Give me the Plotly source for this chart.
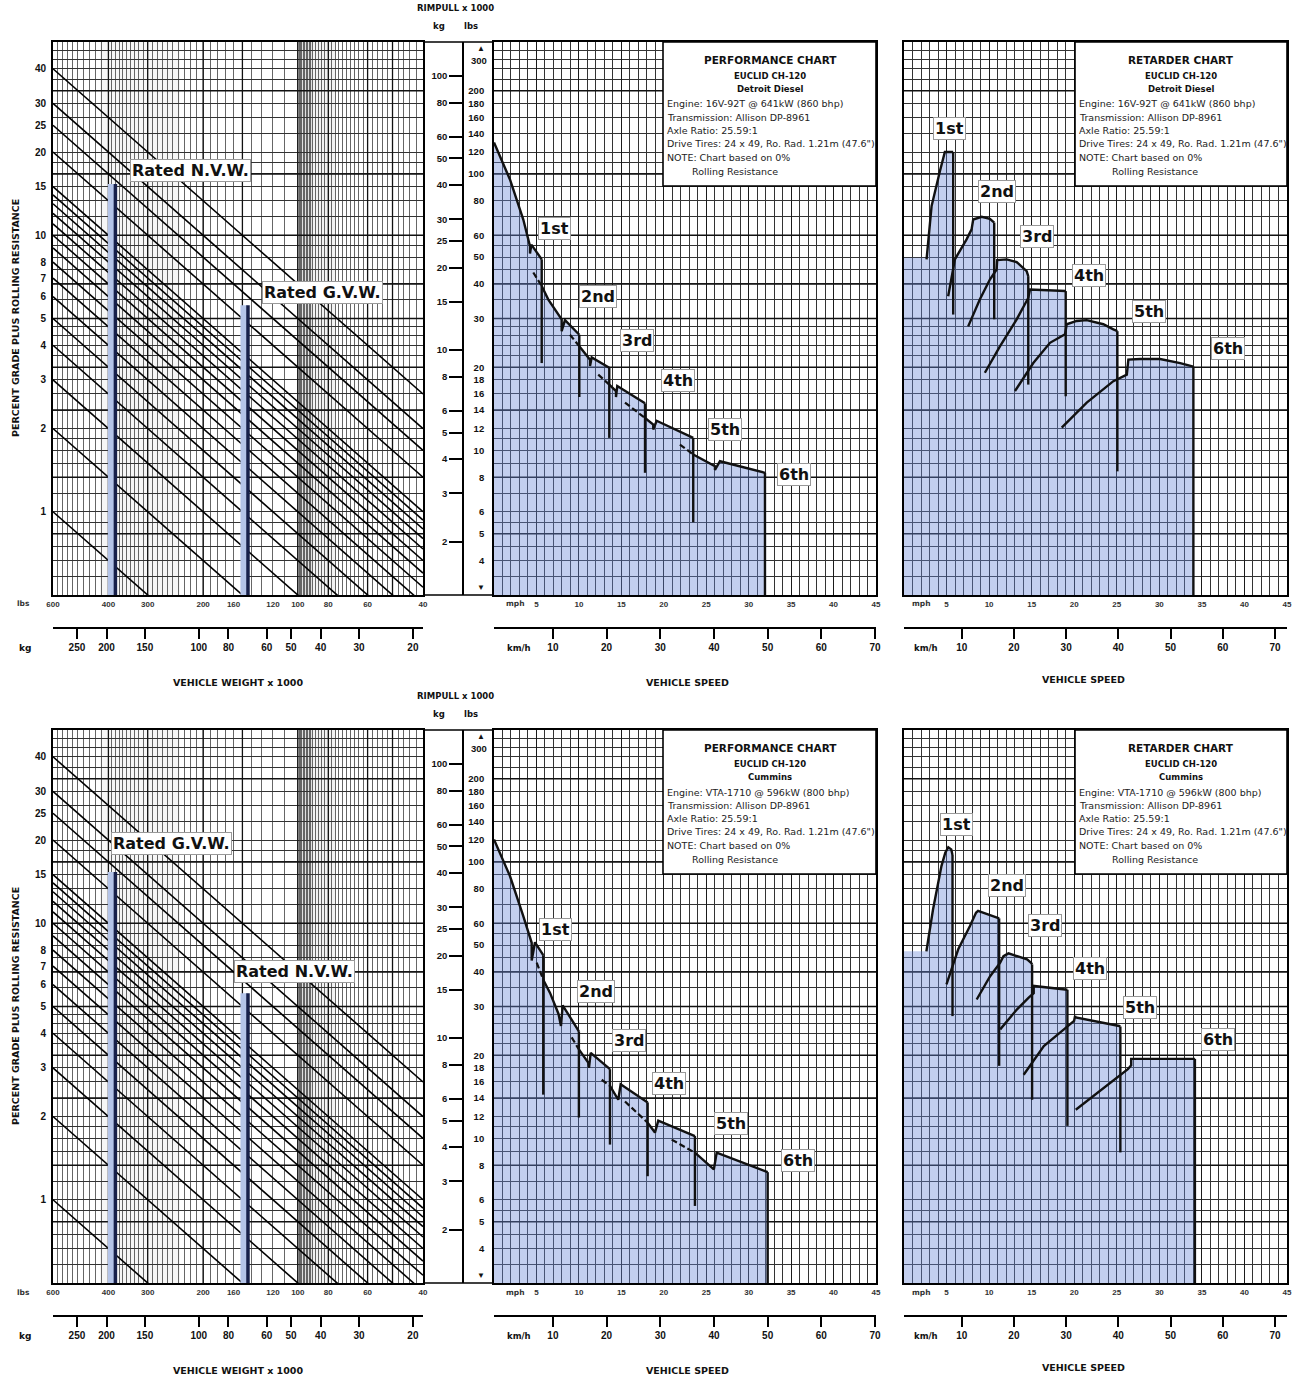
import math
import numpy as np
import plotly.graph_objects as go

FIG_W, FIG_H = 1303, 1383
ROW_DY = 688
FONT = "Liberation Sans"
INFO_FONT = "DejaVu Sans"
LABEL_FONT = "DejaVu Sans"

# ---------------- data ----------------
grade_line_pct = [1, 2, 3, 4, 5, 6, 7, 8, 9, 10, 11, 12, 13, 14, 15, 20, 25, 30, 40]
grade_label_pct = [1, 2, 3, 4, 5, 6, 7, 8, 10, 15, 20, 25, 30, 40]

weight_axis_lbs = [600, 40]
weight_tick_lbs = [600, 400, 300, 200, 160, 120, 100, 80, 60, 40]
weight_tick_kg = [250, 200, 150, 100, 80, 60, 50, 40, 30, 20]

rated_weight_lbs = [380, 144]
rated_top_lbs = [92, 33.5]
rated_labels = [["Rated N.V.W.", "Rated G.V.W."], ["Rated G.V.W.", "Rated N.V.W."]]

rimpull_axis_lbs = [3, 300]
rimpull_tick_lbs = [4, 5, 6, 8, 10, 12, 14, 16, 18, 20, 30, 40, 50, 60, 80, 100, 120, 140, 160, 180, 200]
rimpull_tick_kg = [2, 3, 4, 5, 6, 8, 10, 15, 20, 25, 30, 40, 50, 60, 80, 100]

speed_axis_mph = [0, 45]
speed_tick_mph = [5, 10, 15, 20, 25, 30, 35, 40, 45]
speed_tick_kmh = [10, 20, 30, 40, 50, 60, 70]

gear_names = ["1st", "2nd", "3rd", "4th", "5th", "6th"]

# ---- Detroit Diesel performance (mph, lbs x 1000)
dd_perf_speed = [
    [0, 1.88, 3.45, 4.24, 4.24, 4.4, 5.62],
    [5.62, 6.4, 7.97, 7.97, 8.36, 10.05],
    [10.05, 11.31, 11.31, 11.51, 13.58],
    [13.58, 14.37, 14.37, 14.52, 17.79],
    [17.79, 18.76, 18.76, 19.16, 23.47],
    [23.47, 26.03, 26.03, 26.62, 31.92],
]
dd_perf_pull = [
    [130, 95.5, 68.4, 54.8, 51.5, 55.5, 49.1],
    [39.3, 35.1, 29.8, 27.0, 29.6, 26.2],
    [23.8, 21.3, 20.2, 21.7, 19.9],
    [17.3, 16.4, 15.6, 17.1, 14.8],
    [13.1, 12.4, 11.9, 12.8, 11.1],
    [9.67, 8.77, 8.5, 9.14, 8.3],
]
dd_perf_lead_speed = [[], [4.63, 5.62], [8.95, 10.05], [12.28, 13.58], [15.43, 17.79], [21.9, 23.47]]
dd_perf_lead_pull = [[], [44, 39.3], [26.2, 23.8], [18.8, 17.3], [14.9, 13.1], [10.5, 9.67]]
dd_perf_drop_pull = [20.7, 15.6, 11.1, 8.3, 5.5, 3]
dd_perf_label_speed = [7.18, 12.2, 16.8, 21.7, 27.2, 35.3]
dd_perf_label_pull = [63.5, 36, 25, 17.9, 11.9, 8.2]

# ---- Detroit Diesel retarder
dd_ret_base = [2.65, 49.8]
dd_ret_speed = [
    [2.65, 3.24, 4.21, 4.8, 5.78],
    [5.19, 5.98, 7.35, 7.94, 8.13, 9.12, 10.09, 10.6],
    [7.54, 8.92, 10.09, 10.88, 10.95, 12.06, 13.24, 14.41, 14.6],
    [9.5, 11.27, 13.24, 14.6, 14.8, 19.0],
    [13.04, 15.19, 17.15, 18.92, 19.12, 20.29, 21.47, 23.42, 24.6, 25.07],
    [18.53, 21.47, 24.6, 26.18, 26.36, 27.74, 30.09, 32.45, 34.0],
]
dd_ret_pull = [
    [49.1, 76.5, 102, 120, 120],
    [36.1, 49.1, 58, 63, 68.4, 70, 68.8, 66.7],
    [28.1, 35.2, 41.5, 45.1, 48.8, 49.1, 48, 44.5, 42.7],
    [19.1, 23.8, 29.8, 35.6, 38.2, 37.7],
    [16.4, 20.7, 24.5, 26.3, 28.6, 29.4, 29.6, 28.6, 27.4, 27.0],
    [12.1, 14.9, 17.8, 18.8, 21.3, 21.4, 21.4, 20.7, 20.1],
]
dd_ret_drop_pull = [31, 29.8, 17.3, 15.7, 8.4, 3]
dd_ret_label_speed = [5.39, 10.9, 15.6, 21.7, 28.8, 38.1]
dd_ret_label_pull = [146, 86.5, 59.4, 43, 31.8, 23.4]

# ---- Cummins performance
cu_perf_speed = [
    [0, 1.88, 3.45, 4.44, 4.44, 4.83, 5.8],
    [5.8, 6.6, 7.6, 7.89, 8.09, 10.0],
    [10.0, 11.1, 11.19, 11.39, 13.66],
    [13.66, 14.64, 14.92, 18.1],
    [18.1, 18.96, 19.35, 23.67],
    [23.67, 25.9, 26.23, 32.24],
]
cu_perf_pull = [
    [120.5, 88.9, 63.7, 51, 44, 51.2, 46],
    [37.5, 33.6, 28.2, 25.5, 30.3, 24.4],
    [21, 18.8, 18.0, 20.4, 17.8],
    [15.5, 13.8, 15.7, 13.5],
    [11.4, 10.5, 11.6, 10.2],
    [8.88, 7.73, 8.88, 7.55],
]
cu_perf_lead_speed = [[], [5.03, 5.8], [9.15, 10.0], [12.69, 13.66], [15.43, 18.1], [20.93, 23.67]]
cu_perf_lead_pull = [[], [43.2, 37.5], [23.2, 21], [16.3, 15.5], [13.6, 11.4], [9.9, 8.88]]
cu_perf_drop_pull = [14.4, 11.9, 9.5, 7.3, 5.7, 3]
cu_perf_label_speed = [7.3, 12.0, 15.9, 20.6, 27.9, 35.8]
cu_perf_label_pull = [57, 34, 22.6, 15.8, 11.3, 8.3]

# ---- Cummins retarder
cu_ret_base = [2.63, 47.5]
cu_ret_speed = [
    [2.63, 3.41, 4.4, 4.85, 5.2, 5.55, 5.7],
    [4.99, 6.37, 7.75, 8.46, 8.7, 11.1, 11.18],
    [8.54, 10.12, 11.3, 11.69, 12.28, 14.46, 14.93, 15.05],
    [11.3, 13.28, 14.65, 15.24, 15.24, 18.99, 19.2],
    [14.06, 16.43, 18.79, 19.98, 20.1, 20.18, 25.3, 25.42],
    [20.18, 23.14, 26.3, 26.69, 26.69, 34.18],
]
cu_ret_pull = [
    [47.5, 67.3, 96.6, 108, 113, 111, 106],
    [36.1, 48.3, 58.6, 65.5, 66.5, 62.8, 62.5],
    [31.8, 38.6, 43.2, 45.6, 46.7, 44.4, 43.2, 42.6],
    [24.8, 29.3, 32.3, 33.5, 35.6, 34.6, 34.5],
    [17, 21.6, 24.8, 26.6, 27.7, 27.4, 25.5, 25.4],
    [12.7, 15.0, 17.8, 18.4, 19.4, 19.4],
]
cu_ret_drop_pull = [27.7, 18.3, 13.8, 11.1, 8.9, 3]
cu_ret_label_speed = [6.2, 12.1, 16.6, 21.9, 27.75, 36.9]
cu_ret_label_pull = [137, 82, 59, 41, 29.8, 22.8]

info_common = ["Transmission: Allison DP-8961", "Axle Ratio: 25.59:1",
               'Drive Tires: 24 x 49, Ro. Rad. 1.21m (47.6")', "NOTE: Chart based on 0%"]
engine_names = ["Detroit Diesel", "Cummins"]
engine_lines = ["Engine: 16V-92T @ 641kW (860 bhp)", "Engine: VTA-1710 @ 596kW (800 bhp)"]

# ---------------- styling helpers ----------------
lbs_grid = [3, 3.5, 4, 4.5, 5, 5.5, 6, 7, 8, 9, 10, 11, 12, 14, 16, 18, 20, 22, 24, 26, 28, 30,
            35, 40, 45, 50, 55, 60, 70, 80, 90, 100, 110, 120, 140, 160, 180, 200, 220, 240, 260, 280, 300]
lbs_grid_bold = [5, 8, 14, 20, 30, 40, 60, 100, 200]
weight_grid = list(range(600, 400, -20)) + list(range(400, 100, -10)) + list(range(100, 90, -1)) + list(range(90, 38, -2))
weight_grid_bold = [400, 300, 200, 150, 100, 80, 60, 50]
mph_grid = list(range(0, 46))

lg = math.log10


def px(x):
    return x / FIG_W


def py(y):
    return 1 - y / FIG_H


def axkey(k, n):
    return f"{k}axis" + ("" if n == 1 else str(n))


def axref(k, n):
    return k + ("" if n == 1 else str(n))


def bold(t):
    return f"<b>{t}</b>"


fig = go.Figure()
layout = dict(template="none", width=FIG_W, height=FIG_H, margin=dict(l=0, r=0, t=0, b=0, pad=0),
              paper_bgcolor="white", plot_bgcolor="white", showlegend=False,
              font=dict(family=FONT, color="#111"))
shapes, annotations = [], []


def ann(text, x, y, size=9, xanchor="center", yanchor="middle", family=FONT, color="#111", angle=0, **kw):
    annotations.append(dict(text=text, x=px(x), y=py(y), xref="paper", yref="paper", showarrow=False,
                            xanchor=xanchor, yanchor=yanchor, textangle=angle,
                            font=dict(family=family, size=size, color=color), **kw))


def line_trace(xs, ys, xa, ya, color="#111", width=1.5, dash=None):
    fig.add_trace(go.Scatter(x=xs, y=ys, mode="lines", xaxis=axref("x", xa), yaxis=axref("y", ya),
                             line=dict(color=color, width=width, dash=dash), hoverinfo="skip"))


def hgrid_bold(x0, x1, xa, ya):
    xs, ys = [], []
    for v in lbs_grid_bold:
        xs += [x0, x1, None]
        ys += [v, v, None]
    line_trace(xs, ys, xa, ya, color="#111", width=1.5)


def build_envelope(speeds, pulls, base=None, bottom=3):
    ex, ey = [], []
    if base:
        ex += [0, base[0]]
        ey += [base[1], base[1]]
    prev_end = None
    for gs, gp in zip(speeds, pulls):
        if prev_end is None:
            ex += list(gs)
            ey += list(gp)
        else:
            v = 10 ** np.interp(prev_end, gs, np.log10(gp))
            ex.append(prev_end)
            ey.append(v)
            for s, p in zip(gs, gp):
                if s > prev_end:
                    ex.append(s)
                    ey.append(p)
        prev_end = gs[-1]
    ex += [prev_end, 0]
    ey += [bottom, bottom]
    return ex, ey


tick_font_small = dict(family=FONT, size=8, color="#333")
tick_font = dict(family=FONT, size=10, color="#111")
FILL = "rgba(105,135,215,0.40)"

rows = [
    dict(perf=(dd_perf_speed, dd_perf_pull, dd_perf_lead_speed, dd_perf_lead_pull, dd_perf_drop_pull,
               dd_perf_label_speed, dd_perf_label_pull),
         ret=(dd_ret_speed, dd_ret_pull, dd_ret_base, dd_ret_drop_pull, dd_ret_label_speed, dd_ret_label_pull),
         rated_px=[(190, 170), (322, 293)]),
    dict(perf=(cu_perf_speed, cu_perf_pull, cu_perf_lead_speed, cu_perf_lead_pull, cu_perf_drop_pull,
               cu_perf_label_speed, cu_perf_label_pull),
         ret=(cu_ret_speed, cu_ret_pull, cu_ret_base, cu_ret_drop_pull, cu_ret_label_speed, cu_ret_label_pull),
         rated_px=[(172, 155), (294, 283)]),
]

for r, row in enumerate(rows):
    dy = ROW_DY * r
    xL, xLk, xM, xMk, xR, xRk = [6 * r + i for i in range(1, 7)]
    yL, yM, yMk, yR = [4 * r + i for i in range(1, 5)]
    ydom = [py(595 + dy), py(42 + dy)]
    frame = dict(showline=True, mirror=True, linecolor="black", linewidth=1.8, zeroline=False, automargin=False)

    # ---------- left panel : weight vs grade ----------
    layout[axkey("x", xL)] = dict(domain=[px(53), px(423)], anchor=axref("y", yL), type="log",
                                  range=[lg(weight_axis_lbs[0]), lg(weight_axis_lbs[1])],
                                  tickmode="array", tickvals=weight_tick_lbs,
                                  ticktext=[bold(v) for v in weight_tick_lbs], ticks="", showgrid=False,
                                  tickfont=tick_font_small,
                                  minor=dict(tickmode="array", tickvals=weight_grid, showgrid=True,
                                             gridcolor="#666", gridwidth=0.7, ticks=""), **frame)
    layout[axkey("y", yL)] = dict(domain=ydom, anchor=axref("x", xL), type="log",
                                  range=[lg(rimpull_axis_lbs[0]), lg(rimpull_axis_lbs[1])],
                                  tickmode="array", tickvals=[weight_axis_lbs[0] * g / 100 for g in grade_label_pct],
                                  ticktext=[bold(g) for g in grade_label_pct], ticks="", showgrid=False,
                                  ticklabelstandoff=3, tickfont=tick_font,
                                  minor=dict(tickmode="array", tickvals=lbs_grid, showgrid=True,
                                             gridcolor="#333", gridwidth=1.0, ticks=""), **frame)
    layout[axkey("x", xLk)] = dict(overlaying=axref("x", xL), anchor="free", position=py(628 + dy), type="log",
                                   range=[2.476, 1.268], side="bottom", showline=True, linecolor="black",
                                   linewidth=1.5, ticks="outside", ticklen=10, tickwidth=2, tickcolor="black",
                                   tickmode="array", tickvals=weight_tick_kg, automargin=False,
                                   ticktext=[bold(v) for v in weight_tick_kg], showgrid=False, zeroline=False,
                                   tickfont=tick_font)
    fig.add_trace(go.Scatter(x=[], y=[], xaxis=axref("x", xLk), yaxis=axref("y", yL), hoverinfo="skip"))

    # grey halftone bands (scan look)
    for x0, x1, a in [(297, 313, 0.12), (313, 336, 0.05), (100, 180, 0.035)]:
        shapes.append(dict(type="rect", xref="paper", yref="paper", x0=px(x0), x1=px(x1),
                           y0=py(595 + dy), y1=py(42 + dy), fillcolor=f"rgba(0,0,0,{a})",
                           line=dict(width=0), layer="below"))

    # bold grid
    xs, ys = [], []
    for w in weight_grid_bold:
        xs += [w, w, None]
        ys += [rimpull_axis_lbs[0], rimpull_axis_lbs[1], None]
    line_trace(xs, ys, xL, yL, color="#111", width=1.3)
    hgrid_bold(weight_axis_lbs[0], weight_axis_lbs[1], xL, yL)

    # grade lines (rimpull = weight * grade)
    xs, ys = [], []
    for g in grade_line_pct:
        xs += [weight_axis_lbs[0], weight_axis_lbs[1], None]
        ys += [weight_axis_lbs[0] * g / 100, weight_axis_lbs[1] * g / 100, None]
    line_trace(xs, ys, xL, yL, color="#000", width=1.6)

    # rated weight lines
    for w, top in zip(rated_weight_lbs, rated_top_lbs):
        line_trace([w * 1.03, w * 1.03], [rimpull_axis_lbs[0], top], xL, yL, color="#b4c4e8", width=7)
        line_trace([w, w], [rimpull_axis_lbs[0], top], xL, yL, color="#17204a", width=3.5)
    for lab, (lx, ly) in zip(rated_labels[r], row["rated_px"]):
        ann(bold(lab), lx, ly + dy, size=16, family=LABEL_FONT, bgcolor="white", bordercolor="#999",
            borderwidth=1, borderpad=1)

    # ---------- middle panel : performance ----------
    mph_axis = dict(range=speed_axis_mph, tickmode="array", tickvals=speed_tick_mph,
                    ticktext=[bold(v) for v in speed_tick_mph], ticks="", showgrid=True,
                    gridcolor="#1a1a1a", gridwidth=1.3, tickfont=tick_font_small,
                    minor=dict(tickmode="array", tickvals=mph_grid, showgrid=True, gridcolor="#333",
                               gridwidth=0.9, ticks=""), **frame)
    layout[axkey("x", xM)] = dict(domain=[px(494), px(876)], anchor=axref("y", yM), **mph_axis)
    layout[axkey("y", yM)] = dict(domain=ydom, anchor=axref("x", xM), type="log",
                                  range=[lg(rimpull_axis_lbs[0]), lg(rimpull_axis_lbs[1])],
                                  tickmode="array", tickvals=rimpull_tick_lbs,
                                  ticktext=[bold(v) for v in rimpull_tick_lbs], ticks="", showgrid=False,
                                  ticklabelstandoff=6, tickfont=dict(family=FONT, size=9.5, color="#111"),
                                  minor=dict(tickmode="array", tickvals=lbs_grid, showgrid=True,
                                             gridcolor="#333", gridwidth=1.0, ticks=""), **frame)
    layout[axkey("y", yMk)] = dict(overlaying=axref("y", yM), anchor="free", position=px(463), side="left",
                                   type="log", range=[0.106, 2.124], showline=True, linecolor="black",
                                   linewidth=1.5, ticks="outside", ticklen=13, tickwidth=1.5, tickcolor="black",
                                   tickmode="array", tickvals=rimpull_tick_kg, automargin=False,
                                   ticktext=[bold(v) for v in rimpull_tick_kg], showgrid=False, zeroline=False,
                                   tickfont=dict(family=FONT, size=9.5, color="#111"))
    layout[axkey("x", xMk)] = dict(overlaying=axref("x", xM), anchor="free", position=py(628 + dy),
                                   range=[-0.97, 70.18], side="bottom", showline=True, linecolor="black",
                                   linewidth=1.5, ticks="outside", ticklen=10, tickwidth=2, tickcolor="black",
                                   tickmode="array", tickvals=speed_tick_kmh, automargin=False,
                                   ticktext=[bold(v) for v in speed_tick_kmh], showgrid=False, zeroline=False,
                                   tickfont=tick_font)
    fig.add_trace(go.Scatter(x=[], y=[], xaxis=axref("x", xMk), yaxis=axref("y", yM), hoverinfo="skip"))
    fig.add_trace(go.Scatter(x=[], y=[], xaxis=axref("x", xM), yaxis=axref("y", yMk), hoverinfo="skip"))

    hgrid_bold(speed_axis_mph[0], speed_axis_mph[1], xM, yM)
    p_speed, p_pull, l_speed, l_pull, d_pull, lab_s, lab_p = row["perf"]
    ex, ey = build_envelope(p_speed, p_pull, bottom=rimpull_axis_lbs[0])
    fig.add_trace(go.Scatter(x=ex, y=ey, mode="lines", fill="toself", fillcolor=FILL, line=dict(width=0),
                             xaxis=axref("x", xM), yaxis=axref("y", yM), hoverinfo="skip"))
    for gs, gp in zip(p_speed, p_pull):
        line_trace(gs, gp, xM, yM, color="#111", width=2.4)
    xs, ys = [], []
    for gs, gp, dp in zip(p_speed, p_pull, d_pull):
        xs += [gs[-1], gs[-1], None]
        ys += [gp[-1], dp, None]
    line_trace(xs, ys, xM, yM, color="#111", width=2.4)
    xs, ys = [], []
    for ls, lp in zip(l_speed, l_pull):
        if ls:
            xs += ls + [None]
            ys += lp + [None]
    line_trace(xs, ys, xM, yM, color="#111", width=2.2, dash="6px,3px")
    for name, s, p in zip(gear_names, lab_s, lab_p):
        annotations.append(dict(text=bold(name), x=s, y=lg(p), xref=axref("x", xM), yref=axref("y", yM),
                                showarrow=False, font=dict(family=LABEL_FONT, size=16, color="#111"),
                                bgcolor="white", bordercolor="#999", borderwidth=1, borderpad=1))

    # ---------- right panel : retarder ----------
    layout[axkey("x", xR)] = dict(domain=[px(904), px(1287)], anchor=axref("y", yR), **mph_axis)
    layout[axkey("y", yR)] = dict(domain=ydom, anchor=axref("x", xR), type="log",
                                  range=[lg(rimpull_axis_lbs[0]), lg(rimpull_axis_lbs[1])],
                                  showticklabels=False, ticks="", showgrid=False,
                                  minor=dict(tickmode="array", tickvals=lbs_grid, showgrid=True,
                                             gridcolor="#333", gridwidth=1.0, ticks=""), **frame)
    layout[axkey("x", xRk)] = dict(overlaying=axref("x", xR), anchor="free", position=py(628 + dy),
                                   range=[-1.05, 72.3], side="bottom", showline=True, linecolor="black",
                                   linewidth=1.5, ticks="outside", ticklen=10, tickwidth=2, tickcolor="black",
                                   tickmode="array", tickvals=speed_tick_kmh, automargin=False,
                                   ticktext=[bold(v) for v in speed_tick_kmh], showgrid=False, zeroline=False,
                                   tickfont=tick_font)
    fig.add_trace(go.Scatter(x=[], y=[], xaxis=axref("x", xRk), yaxis=axref("y", yR), hoverinfo="skip"))

    hgrid_bold(speed_axis_mph[0], speed_axis_mph[1], xR, yR)
    r_speed, r_pull, r_base, r_drop, rlab_s, rlab_p = row["ret"]
    ex, ey = build_envelope(r_speed, r_pull, base=r_base, bottom=rimpull_axis_lbs[0])
    fig.add_trace(go.Scatter(x=ex, y=ey, mode="lines", fill="toself", fillcolor=FILL, line=dict(width=0),
                             xaxis=axref("x", xR), yaxis=axref("y", yR), hoverinfo="skip"))
    for gs, gp in zip(r_speed, r_pull):
        line_trace(gs, gp, xR, yR, color="#111", width=2.4)
    xs, ys = [], []
    for gs, gp, dp in zip(r_speed, r_pull, r_drop):
        xs += [gs[-1], gs[-1], None]
        ys += [gp[-1], dp, None]
    line_trace(xs, ys, xR, yR, color="#111", width=2.4)
    for name, s, p in zip(gear_names, rlab_s, rlab_p):
        annotations.append(dict(text=bold(name), x=s, y=lg(p), xref=axref("x", xR), yref=axref("y", yR),
                                showarrow=False, font=dict(family=LABEL_FONT, size=16, color="#111"),
                                bgcolor="white", bordercolor="#999", borderwidth=1, borderpad=1))

    # ---------- info boxes ----------
    for (bx0, bx1, title, cx, rolling_x) in [(663, 876, "PERFORMANCE CHART", 770, 690),
                                              (1075, 1287, "RETARDER CHART", 1181, 1110)]:
        shapes.append(dict(type="rect", xref="paper", yref="paper", x0=px(bx0), x1=px(bx1),
                           y0=py(186 + dy), y1=py(42 + dy), fillcolor="white",
                           line=dict(color="black", width=1.6), layer="above"))
        ann(bold(title), cx, 60 + dy, size=10.5, family=INFO_FONT)
        ann(bold("EUCLID CH-120"), cx, 76 + dy, size=8.5, family=INFO_FONT)
        ann(bold(engine_names[r]), cx, 89 + dy, size=8.5, family=INFO_FONT)
        for i, t in enumerate([engine_lines[r]] + info_common):
            ann(t, bx0 + 2, 104 + 13.3 * i + dy, size=9.5, xanchor="left", family=INFO_FONT, color="#222")
        ann("Rolling Resistance", rolling_x, 171 + dy, size=9.5, xanchor="left", family=INFO_FONT, color="#222")

    # ---------- axis titles / frame bits ----------
    ann(bold("PERCENT GRADE PLUS ROLLING RESISTANCE"), 15, 318 + dy, size=9.5, angle=-90, family=INFO_FONT)
    ann(bold("VEHICLE WEIGHT x 1000"), 238, 682 + dy, size=9.5, family=INFO_FONT)
    ann(bold("VEHICLE SPEED"), 687, 682 + dy, size=9.5, family=INFO_FONT)
    ann(bold("VEHICLE SPEED"), 1083, 679 + dy, size=9.5, family=INFO_FONT)
    ann(bold("RIMPULL x 1000"), 455, 8 + dy, size=8.5, family=INFO_FONT)
    ann(bold("kg"), 439, 26 + dy, size=8.5, family=INFO_FONT)
    ann(bold("lbs"), 471, 26 + dy, size=8.5, family=INFO_FONT)
    ann(bold("lbs"), 23, 604 + dy, size=7.5, family=INFO_FONT, color="#333")
    ann(bold("kg"), 25, 648 + dy, size=9, family=INFO_FONT)
    ann(bold("mph"), 515, 604 + dy, size=7.5, family=INFO_FONT, color="#333")
    ann(bold("km/h"), 519, 648 + dy, size=8.5, family=INFO_FONT)
    ann(bold("mph"), 921, 604 + dy, size=7.5, family=INFO_FONT, color="#333")
    ann(bold("km/h"), 926, 648 + dy, size=8.5, family=INFO_FONT)
    ann(bold("300"), 479, 60 + dy, size=9.5)
    ann("▲", 481, 48 + dy, size=8)
    ann("▼", 481, 587 + dy, size=8)
    for yy in (42, 595):
        shapes.append(dict(type="line", xref="paper", yref="paper", x0=px(423), x1=px(494),
                           y0=py(yy + dy), y1=py(yy + dy), line=dict(color="black", width=1.5)))

layout["shapes"] = shapes
layout["annotations"] = annotations
fig.update_layout(**layout)
fig.update_traces(showlegend=False)
fig.write_html("out.html", config={"displayModeBar": False},
               post_script="document.body.style.margin='0px';document.body.style.overflow='hidden';")
